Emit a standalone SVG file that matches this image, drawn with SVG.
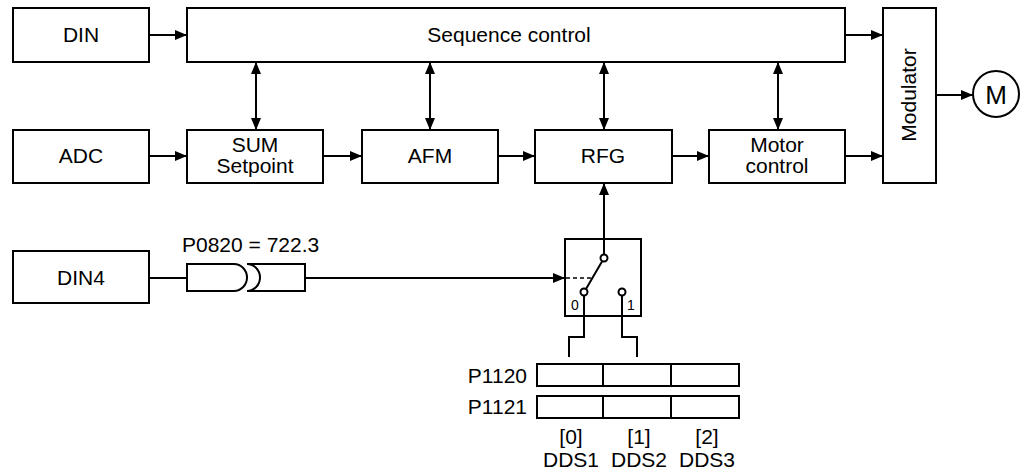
<svg xmlns="http://www.w3.org/2000/svg" width="1022" height="473" viewBox="0 0 1022 473">
<style>
.box{fill:#fff;stroke:#000;stroke-width:2}
.ln{fill:none;stroke:#000;stroke-width:2}
.t{font-family:"Liberation Sans",Arial,sans-serif;font-size:21px;fill:#000}
.c{text-anchor:middle}
.s{font-family:"Liberation Sans",Arial,sans-serif;font-size:14px;fill:#000;text-anchor:middle}
</style>
<defs>
<marker id="ah" markerUnits="userSpaceOnUse" markerWidth="12" markerHeight="10" refX="12" refY="5" orient="auto-start-reverse">
<path d="M0,0 L12,5 L0,10 Z" fill="#000"/>
</marker>
</defs>
<g id="n-din"><rect class="box" x="13" y="8" width="136" height="54"/><text class="t c" x="81" y="42">DIN</text></g>
<g id="n-seq"><rect class="box" x="187" y="8" width="658" height="54"/><text class="t c" x="509" y="42">Sequence control</text></g>
<g id="n-mod"><rect class="box" x="883" y="8" width="53" height="175"/><text class="t c" x="916" y="95" transform="rotate(-90 916 95)">Modulator</text></g>
<g id="n-m"><circle class="box" cx="996" cy="94" r="23"/><text class="t c" x="996" y="104" style="font-size:26px">M</text></g>
<g id="n-adc"><rect class="box" x="13" y="130" width="136" height="53"/><text class="t c" x="81" y="163">ADC</text></g>
<g id="n-sum"><rect class="box" x="187" y="130" width="136" height="53"/><text class="t c" x="255" y="152">SUM</text><text class="t c" x="255" y="173">Setpoint</text></g>
<g id="n-afm"><rect class="box" x="362" y="130" width="136" height="53"/><text class="t c" x="430" y="163">AFM</text></g>
<g id="n-rfg"><rect class="box" x="535" y="130" width="137" height="53"/><text class="t c" x="603" y="163">RFG</text></g>
<g id="n-motor"><rect class="box" x="709" y="130" width="136" height="53"/><text class="t c" x="777" y="152">Motor</text><text class="t c" x="777" y="173">control</text></g>
<g id="n-din4"><rect class="box" x="13" y="251" width="136" height="52"/><text class="t c" x="81" y="285">DIN4</text></g>
<g id="n-plug">
<text class="t" x="182" y="252">P0820 = 722.3</text>
<path class="ln" d="M187,264 H234 A13,13.5 0 0 1 234,291 H187 Z"/>
<path class="ln" d="M305,264 H247 A13,13.5 0 0 1 247,291 H305 Z"/>
</g>
<g id="n-switch">
<rect class="box" x="565" y="239" width="76" height="77"/>
<circle class="box" cx="604" cy="258" r="3.5"/>
<circle class="box" cx="584" cy="292" r="3.5"/>
<circle class="box" cx="622" cy="292" r="3.5"/>
<line class="ln" x1="586" y1="289" x2="602" y2="261.5"/>
<line x1="566" y1="278" x2="592" y2="278" stroke="#000" stroke-width="1.5" stroke-dasharray="4,3"/>
<text class="s" x="575" y="310">0</text>
<text class="s" x="631" y="310">1</text>
</g>
<g id="n-p1120"><text class="t" x="527" y="383" text-anchor="end">P1120</text><rect class="box" x="537" y="364" width="202" height="22"/><line class="ln" x1="603" y1="364" x2="603" y2="386"/><line class="ln" x1="671" y1="364" x2="671" y2="386"/></g>
<g id="n-p1121"><text class="t" x="527" y="414" text-anchor="end">P1121</text><rect class="box" x="537" y="396" width="202" height="22"/><line class="ln" x1="603" y1="396" x2="603" y2="418"/><line class="ln" x1="671" y1="396" x2="671" y2="418"/></g>
<g id="n-idx">
<text class="t c" x="571" y="444">[0]</text><text class="t c" x="571" y="467">DDS1</text>
<text class="t c" x="639" y="444">[1]</text><text class="t c" x="639" y="467">DDS2</text>
<text class="t c" x="707" y="444">[2]</text><text class="t c" x="707" y="467">DDS3</text>
</g>
<g id="connectors">
<line class="ln" x1="149" y1="35" x2="187" y2="35" marker-end="url(#ah)"/>
<line class="ln" x1="845" y1="35" x2="883" y2="35" marker-end="url(#ah)"/>
<line class="ln" x1="149" y1="156" x2="187" y2="156" marker-end="url(#ah)"/>
<line class="ln" x1="323" y1="156" x2="362" y2="156" marker-end="url(#ah)"/>
<line class="ln" x1="498" y1="156" x2="535" y2="156" marker-end="url(#ah)"/>
<line class="ln" x1="672" y1="156" x2="709" y2="156" marker-end="url(#ah)"/>
<line class="ln" x1="845" y1="156" x2="883" y2="156" marker-end="url(#ah)"/>
<line class="ln" x1="936" y1="95" x2="973" y2="95" marker-end="url(#ah)"/>
<line class="ln" x1="256" y1="62" x2="256" y2="130" marker-start="url(#ah)" marker-end="url(#ah)"/>
<line class="ln" x1="430" y1="62" x2="430" y2="130" marker-start="url(#ah)" marker-end="url(#ah)"/>
<line class="ln" x1="604" y1="62" x2="604" y2="130" marker-start="url(#ah)" marker-end="url(#ah)"/>
<line class="ln" x1="778" y1="62" x2="778" y2="130" marker-start="url(#ah)" marker-end="url(#ah)"/>
<line class="ln" x1="604" y1="254.5" x2="604" y2="183" marker-end="url(#ah)"/>
<line class="ln" x1="149" y1="278" x2="187" y2="278"/>
<line class="ln" x1="305" y1="278" x2="565" y2="278" marker-end="url(#ah)"/>
<path class="ln" d="M584,295.5 V337 H569 V357"/>
<path class="ln" d="M622,295.5 V337 H637 V357"/>
</g>
</svg>
